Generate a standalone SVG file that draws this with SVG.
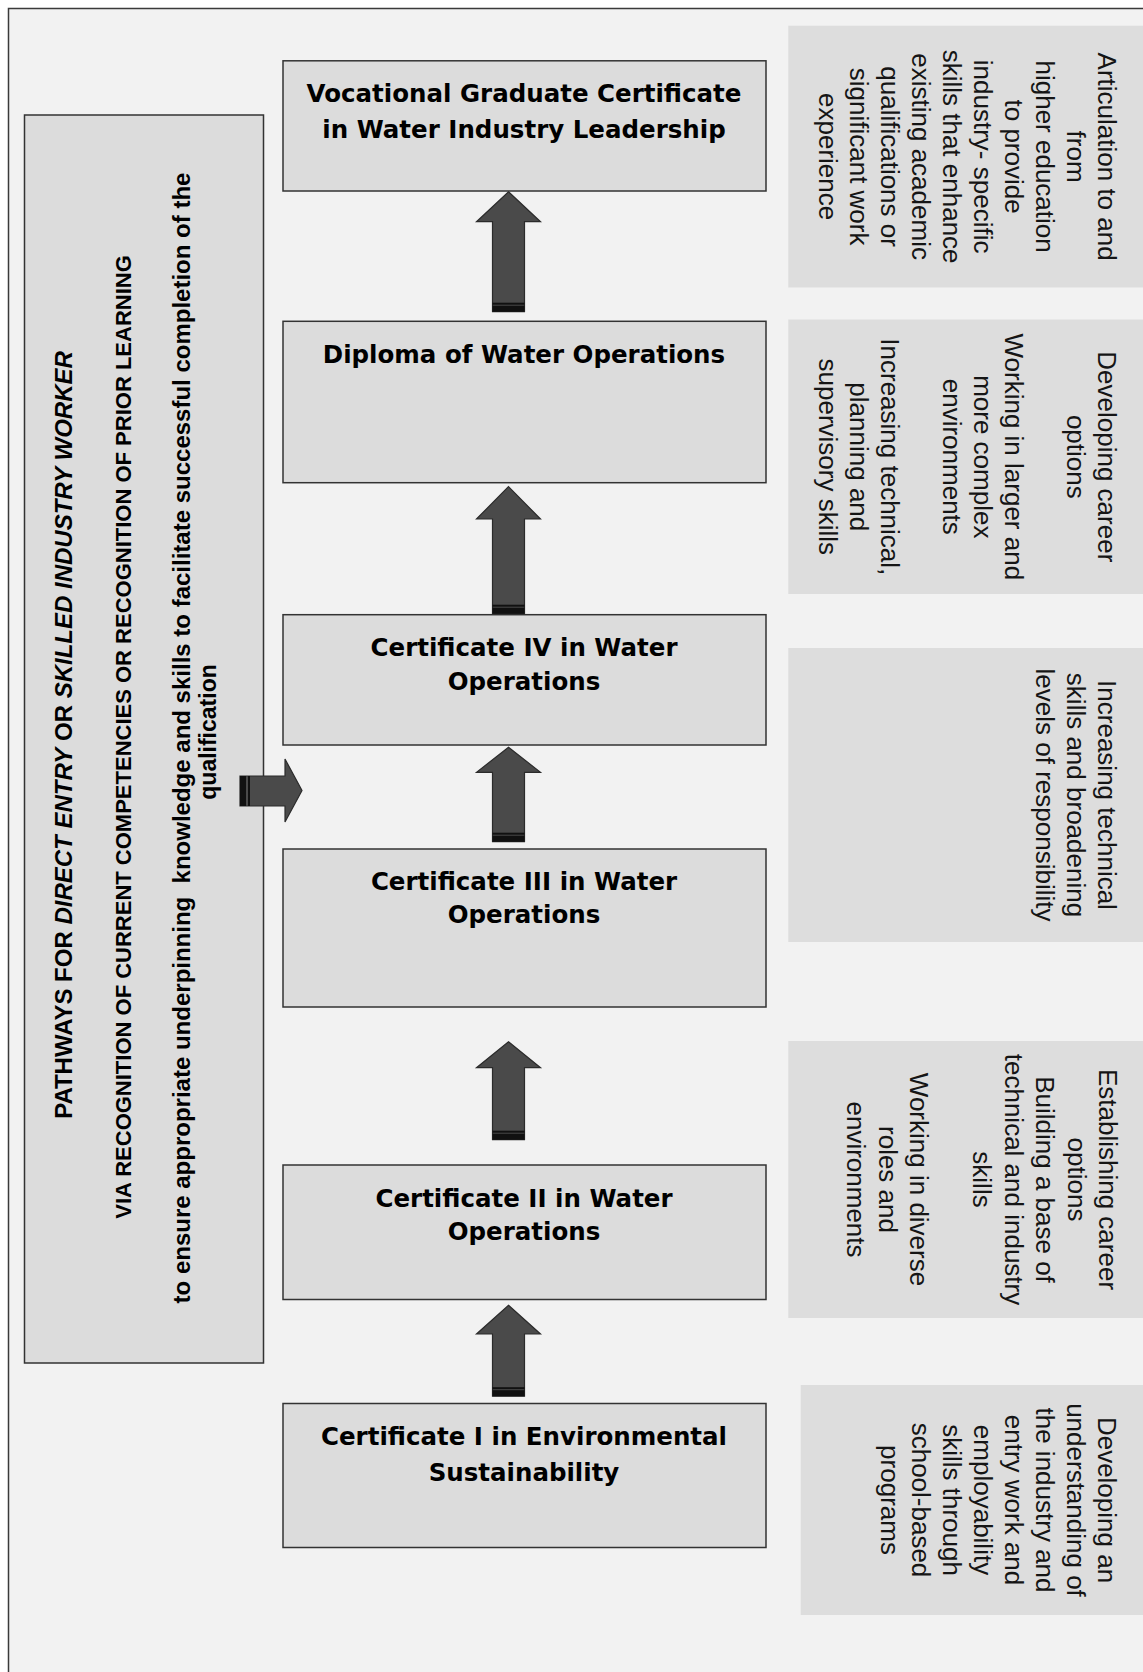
<svg xmlns="http://www.w3.org/2000/svg" width="1143" height="1672" viewBox="0 0 1143 1672">
<style>
.page{fill:#f2f2f2;stroke:#3a3a3a;stroke-width:1.5}
.box{fill:#dcdcdc;stroke:#333;stroke-width:1.5}
.side{fill:#dddddd}
.title{font-family:"DejaVu Sans",Verdana,sans-serif;font-weight:bold;font-size:24.5px;fill:#000;text-anchor:middle}
.lt{font-family:"Liberation Sans",Arial,sans-serif;font-weight:bold;fill:#000;text-anchor:middle}
.st{font-family:"Liberation Sans",Arial,sans-serif;font-size:26px;fill:#151515;text-anchor:middle}
.arrow{fill:#4a4a4a;stroke:#2b2b2b;stroke-width:1.2}
.band{fill:#111}
</style>
<rect x="0" y="0" width="1143" height="1672" fill="#ffffff"/>
<rect class="page" x="8.5" y="8.5" width="1200" height="1700"/>

<g id="left-pathways">
<rect class="box" x="24.5" y="115" width="239" height="1248"/>
<text class="lt" font-size="24" transform="translate(71.5,735) rotate(-90)">PATHWAYS FOR <tspan font-style="italic">DIRECT ENTRY</tspan> OR <tspan font-style="italic">SKILLED INDUSTRY WORKER</tspan></text>
<text class="lt" font-size="22" transform="translate(131,737) rotate(-90)">VIA RECOGNITION OF CURRENT COMPETENCIES OR RECOGNITION OF PRIOR LEARNING</text>
<text class="lt" font-size="24" xml:space="preserve" transform="translate(190,738) rotate(-90)">to ensure appropriate underpinning  knowledge and skills to facilitate successful completion of the</text>
<text class="lt" font-size="23" transform="translate(216,732) rotate(-90)">qualification</text>
</g>

<g id="vgc">
<rect class="box" x="283" y="60.8" width="483" height="130.2"/>
<text class="title" x="524" y="101.5">Vocational Graduate Certificate</text>
<text class="title" x="524" y="137.5">in Water Industry Leadership</text>
</g>
<g id="diploma">
<rect class="box" x="283" y="321.3" width="483" height="161.4"/>
<text class="title" x="524" y="363.3">Diploma of Water Operations</text>
</g>
<g id="cert4">
<rect class="box" x="283" y="614.7" width="483" height="130.3"/>
<text class="title" x="524" y="656">Certificate IV in Water</text>
<text class="title" x="524" y="689.5">Operations</text>
</g>
<g id="cert3">
<rect class="box" x="283" y="849" width="483" height="158"/>
<text class="title" x="524" y="890">Certificate III in Water</text>
<text class="title" x="524" y="923.3">Operations</text>
</g>
<g id="cert2">
<rect class="box" x="283" y="1165" width="483" height="134.5"/>
<text class="title" x="524" y="1206.7">Certificate II in Water</text>
<text class="title" x="524" y="1240">Operations</text>
</g>
<g id="cert1">
<rect class="box" x="283" y="1403.5" width="483" height="144"/>
<text class="title" x="524" y="1444.6">Certificate I in Environmental</text>
<text class="title" x="524" y="1480.8">Sustainability</text>
</g>

<g id="side-a">
<rect class="side" x="788.3" y="25.7" width="360" height="261.8"/>
<g transform="translate(0,156.6)">
<text class="st" transform="translate(1098,0) rotate(90)">Articulation to and</text>
<text class="st" transform="translate(1067,0) rotate(90)">from</text>
<text class="st" transform="translate(1036,0) rotate(90)">higher education</text>
<text class="st" transform="translate(1005,0) rotate(90)">to provide</text>
<text class="st" transform="translate(974,0) rotate(90)">industry- specific</text>
<text class="st" transform="translate(943,0) rotate(90)">skills that enhance</text>
<text class="st" transform="translate(912,0) rotate(90)">existing academic</text>
<text class="st" transform="translate(881,0) rotate(90)">qualifications or</text>
<text class="st" transform="translate(850,0) rotate(90)">significant work</text>
<text class="st" transform="translate(819,0) rotate(90)">experience</text>
</g>
</g>
<g id="side-b">
<rect class="side" x="788.3" y="319.5" width="360" height="274.5"/>
<g transform="translate(0,456.8)">
<text class="st" transform="translate(1098,0) rotate(90)">Developing career</text>
<text class="st" transform="translate(1067,0) rotate(90)">options</text>
<text class="st" transform="translate(1005,0) rotate(90)">Working in larger and</text>
<text class="st" transform="translate(974,0) rotate(90)">more complex</text>
<text class="st" transform="translate(943,0) rotate(90)">environments</text>
<text class="st" transform="translate(881,0) rotate(90)">Increasing technical,</text>
<text class="st" transform="translate(850,0) rotate(90)">planning and</text>
<text class="st" transform="translate(819,0) rotate(90)">supervisory skills</text>
</g>
</g>
<g id="side-c">
<rect class="side" x="788.3" y="648" width="360" height="294"/>
<g transform="translate(0,795)">
<text class="st" transform="translate(1098,0) rotate(90)">Increasing technical</text>
<text class="st" transform="translate(1067,0) rotate(90)">skills and broadening</text>
<text class="st" transform="translate(1036,0) rotate(90)">levels of responsibility</text>
</g>
</g>
<g id="side-d">
<rect class="side" x="788.3" y="1041" width="360" height="277"/>
<g transform="translate(0,1179.5)">
<text class="st" transform="translate(1099,0) rotate(90)">Establishing career</text>
<text class="st" transform="translate(1067.5,0) rotate(90)">options</text>
<text class="st" transform="translate(1036,0) rotate(90)">Building a base of</text>
<text class="st" transform="translate(1004.5,0) rotate(90)">technical and industry</text>
<text class="st" transform="translate(973,0) rotate(90)">skills</text>
<text class="st" transform="translate(910,0) rotate(90)">Working in diverse</text>
<text class="st" transform="translate(878.5,0) rotate(90)">roles and</text>
<text class="st" transform="translate(847,0) rotate(90)">environments</text>
</g>
</g>
<g id="side-e">
<rect class="side" x="800.7" y="1385" width="350" height="230"/>
<g transform="translate(0,1500)">
<text class="st" transform="translate(1098,0) rotate(90)">Developing an</text>
<text class="st" transform="translate(1067,0) rotate(90)">understanding of</text>
<text class="st" transform="translate(1036,0) rotate(90)">the industry and</text>
<text class="st" transform="translate(1005,0) rotate(90)">entry work and</text>
<text class="st" transform="translate(974,0) rotate(90)">employability</text>
<text class="st" transform="translate(943,0) rotate(90)">skills through</text>
<text class="st" transform="translate(912,0) rotate(90)">school-based</text>
<text class="st" transform="translate(881,0) rotate(90)">programs</text>
</g>
</g>

<g id="connectors">
<g id="arrow-d-v">
<polygon class="arrow" points="508.5,191.7 540.5,221.7 524.5,221.7 524.5,311.7 492.5,311.7 492.5,221.7 476.5,221.7"/>
<rect class="band" x="492.5" y="302.7" width="32" height="2"/>
<rect class="band" x="492.5" y="305.7" width="32" height="6"/>
</g>
<g id="arrow-4-d">
<polygon class="arrow" points="508.5,486.7 540.5,519 524.5,519 524.5,613.7 492.5,613.7 492.5,519 476.5,519"/>
<rect class="band" x="492.5" y="604.7" width="32" height="2"/>
<rect class="band" x="492.5" y="607.7" width="32" height="6"/>
</g>
<g id="arrow-3-4">
<polygon class="arrow" points="508.5,747.3 540.5,772.3 524.5,772.3 524.5,841.7 492.5,841.7 492.5,772.3 476.5,772.3"/>
<rect class="band" x="492.5" y="832.7" width="32" height="2"/>
<rect class="band" x="492.5" y="835.7" width="32" height="6"/>
</g>
<g id="arrow-2-3">
<polygon class="arrow" points="508.5,1041.7 540.5,1067.7 524.5,1067.7 524.5,1139.7 492.5,1139.7 492.5,1067.7 476.5,1067.7"/>
<rect class="band" x="492.5" y="1130.7" width="32" height="2"/>
<rect class="band" x="492.5" y="1133.7" width="32" height="6"/>
</g>
<g id="arrow-1-2">
<polygon class="arrow" points="508.5,1305.3 540.5,1334 524.5,1334 524.5,1396.2 492.5,1396.2 492.5,1334 476.5,1334"/>
<rect class="band" x="492.5" y="1387.2" width="32" height="2"/>
<rect class="band" x="492.5" y="1390.2" width="32" height="6"/>
</g>
<g id="arrow-entry">
<polygon class="arrow" points="240,776 285,776 285,759 302,790.5 285,822 285,806 240,806"/>
<rect class="band" x="240" y="776" width="6" height="30"/>
<rect class="band" x="248" y="776" width="2" height="30"/>
</g>
</g>
</svg>
